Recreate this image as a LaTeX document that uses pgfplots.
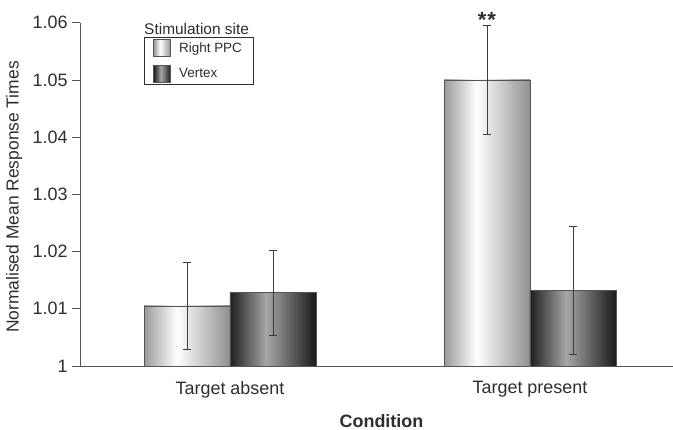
\documentclass[border=0pt]{standalone}
\usepackage{fontspec}
\setmainfont{Liberation Sans}
\usepackage{pgfplots}
\pgfplotsset{compat=1.18}

\definecolor{axisgray}{HTML}{555555}
\definecolor{txt}{HTML}{2E2E2E}
\definecolor{errc}{HTML}{3C3C3C}
\definecolor{ppcA}{HTML}{9A9A9A}
\definecolor{ppcB}{HTML}{909090}
\definecolor{vtxA}{HTML}{1E1E1E}
\definecolor{vtxM}{HTML}{A6A6A6}
\definecolor{vtxB}{HTML}{1A1A1A}

\pgfdeclarehorizontalshading{ppcshade}{100bp}{color(0bp)=(ppcA); color(25bp)=(ppcA); color(44bp)=(white); color(75bp)=(ppcB); color(100bp)=(ppcB)}
\pgfdeclarehorizontalshading{vtxshade}{100bp}{color(0bp)=(vtxA); color(25bp)=(vtxA); color(46bp)=(vtxM); color(75bp)=(vtxB); color(100bp)=(vtxB)}

\begin{document}
\begin{tikzpicture}
\begin{axis}[
  at={(80bp,64bp)}, anchor=south west,
  scale only axis, width=593bp, height=343.3bp,
  xmin=-0.5, xmax=1.4767, ymin=1, ymax=1.06,
  clip=false,
  axis lines=left, axis line style={-, draw=axisgray, line width=0.8bp},
  xtick={0,1}, xticklabels={Target absent, Target present},
  ytick={1,1.01,1.02,1.03,1.04,1.05,1.06},
  yticklabels={1,1.01,1.02,1.03,1.04,1.05,1.06},
  xtick style={draw=none},
  ytick style={draw=axisgray, line width=0.8bp},
  tick align=outside, major tick length=8bp,
  ticklabel style={font=\fontsize{18}{20}\selectfont, text=txt},
  yticklabel style={xshift=-1bp},
  xticklabel style={yshift=-4bp},
  xlabel={\textbf{Condition}},
  xlabel style={at={(axis description cs:0.5084,-0.1602)}, anchor=center, font=\fontsize{18}{20}\selectfont, text=txt},
  ylabel={Normalised Mean Response Times},
  ylabel style={at={(axis description cs:-0.1113,0.4923)}, anchor=center, font=\fontsize{17.5}{19}\selectfont, text=txt},
  ybar, bar width=0.2867,
  legend image code/.code={\draw[#1] (0bp,-8.5bp) rectangle (17bp,8.5bp);},
  legend cell align=left,
  legend style={at={(axis description cs:0.108,0.959)}, anchor=north west,
    draw=txt, line width=0.8bp, font=\fontsize{13.5}{15}\selectfont, text=txt,
    row sep=8bp, inner xsep=9bp, inner ysep=2bp,
    /tikz/every odd column/.append style={column sep=6bp}},
  error bars/y dir=both, error bars/y explicit,
  error bars/error bar style={draw=errc, line width=0.8bp},
  error bars/error mark options={rotate=90, draw=errc, mark size=4bp, line width=0.8bp},
  ppc/.style={bar shift=-0.1433, draw=axisgray, line width=0.7bp, shade, shading=ppcshade},
  vtx/.style={bar shift=0.1433, draw=axisgray, line width=0.7bp, shade, shading=vtxshade},
]
% Right PPC
\addplot[ppc] coordinates {(0,1.0105) +- (0,0.0076)};
\addlegendentry{Right PPC}
% Vertex
\addplot[vtx] coordinates {(0,1.0128) +- (0,0.0074)};
\addlegendentry{Vertex}
\addplot[ppc, forget plot] coordinates {(1,1.0500) +- (0,0.0096)};
\addplot[vtx, forget plot] coordinates {(1,1.0132) +- (0,0.0112)};
\node[anchor=base, text=txt, font=\fontsize{22}{24}\selectfont\bfseries, yshift=-3.5bp] at (axis cs:0.8567,1.0597) {*\kern1bp*};
\node[anchor=south west, text=txt, font=\fontsize{15.5}{17}\selectfont, inner sep=0pt, yshift=2bp] at (axis description cs:0.108,0.959) {Stimulation site};
\end{axis}
\pgfresetboundingbox
\path[use as bounding box] (0,0) rectangle (673bp,430bp);
\end{tikzpicture}
\end{document}
